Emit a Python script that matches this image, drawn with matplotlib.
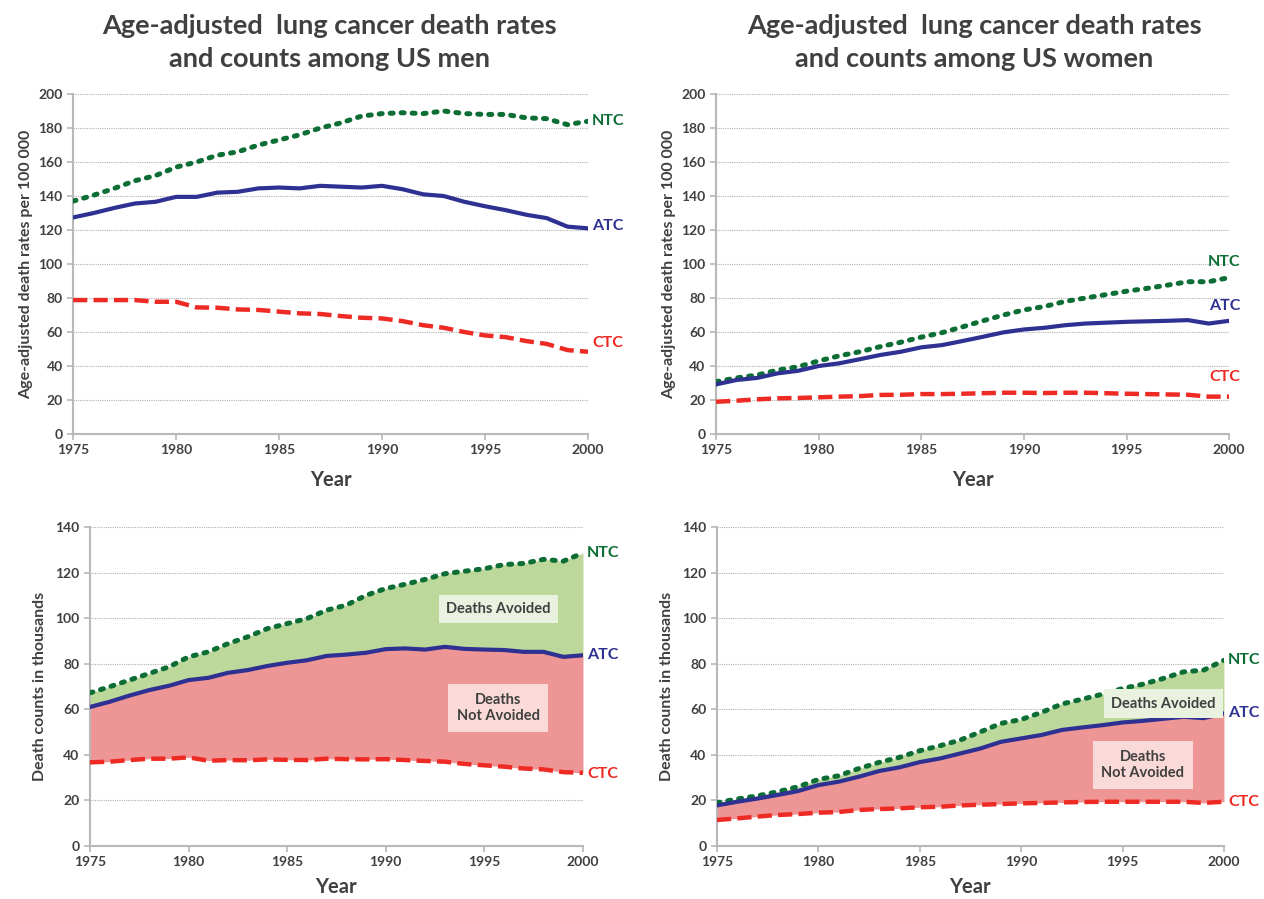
import matplotlib.pyplot as plt

plt.rcParams['font.family'] = ['Lato', 'DejaVu Sans']

years = list(range(1975, 2001))

# age-adjusted death rates per 100 000
men_ntc_rate = [137, 140.5, 144.5, 149, 152, 157, 160, 164, 166, 170, 173, 176, 180,
                183, 187, 188.5, 189, 188.5, 190, 188.5, 188, 188, 186, 185.5, 182, 184]
men_atc_rate = [127.4, 130, 133, 135.6, 136.6, 139.5, 139.5, 142, 142.5, 144.5, 145, 144.5, 146,
                145.5, 145, 146, 144, 141, 140, 136.6, 134, 131.7, 129, 127, 122, 121]
men_ctc_rate = [78.8, 78.8, 78.8, 78.8, 77.8, 77.8, 74.5, 74.3, 73.3, 73, 72, 71, 70.6,
                69.4, 68.4, 68, 66.4, 64, 62.5, 60, 58, 57, 54.7, 53, 49.4, 48.4]

women_ntc_rate = [30.8, 33, 34.7, 37.6, 39.6, 43, 46, 48.4, 51.4, 54, 57, 59.6, 63,
                  66.6, 70, 73, 75, 78, 80, 82, 84, 85.7, 87.6, 89.6, 89.6, 92]
women_atc_rate = [29.2, 31.8, 33, 35.7, 37.2, 40, 41.6, 44, 46.5, 48.4, 51, 52.3, 54.7,
                  57.2, 59.8, 61.5, 62.5, 64, 65, 65.5, 66, 66.3, 66.6, 67, 65, 66.6]
women_ctc_rate = [19, 19.6, 20.4, 21, 21.2, 21.6, 22, 22.3, 23, 23.1, 23.5, 23.5, 23.7,
                  24, 24.3, 24.3, 24.1, 24.3, 24.3, 24, 23.7, 23.5, 23.3, 23.1, 22, 22]

# death counts in thousands
men_ntc_count = [67.2, 69.9, 72.8, 75.7, 78.6, 83, 85.2, 88.8, 91.8, 95.4, 97.6, 99.8, 103.5,
                 105.7, 110, 113, 114.9, 117, 119.5, 120.6, 121.7, 123.5, 124, 125.8, 125, 128.6]
men_atc_count = [61, 63.3, 66, 68.4, 70.3, 72.8, 73.8, 76, 77.2, 79, 80.4, 81.5, 83.4,
                 84, 84.8, 86.4, 86.7, 86.2, 87.4, 86.5, 86.2, 86, 85.2, 85.2, 83, 83.7]
men_ctc_count = [36.7, 37, 37.7, 38.3, 38.3, 38.9, 37.4, 37.7, 37.6, 38, 37.8, 37.7, 38.3,
                 38.1, 38, 38.1, 37.7, 37.3, 37, 36, 35.4, 34.8, 34, 33.6, 32.4, 32.1]

women_ntc_count = [19, 20.6, 22, 23.8, 26, 29.2, 30.8, 34, 36.7, 38.9, 41.8, 44, 46.5,
                   50.1, 53.8, 55.5, 58.6, 62.3, 64.4, 66.6, 69.1, 71, 73.5, 76.4, 77.2, 81.5]
women_atc_count = [17.8, 19.4, 20.8, 22.4, 24.1, 26.7, 28.2, 30.4, 32.9, 34.5, 36.8, 38.4, 40.6,
                   42.8, 45.7, 47.2, 48.7, 50.9, 52, 53, 54.2, 54.9, 55.8, 56.7, 56.1, 58.2]
women_ctc_count = [11.4, 12.1, 12.9, 13.6, 14, 14.6, 14.9, 15.8, 16.2, 16.5, 17, 17.2, 17.8,
                   18.1, 18.4, 18.7, 18.9, 19.1, 19.3, 19.4, 19.4, 19.4, 19.4, 19.4, 18.9, 19.4]

GREEN = '#0d6e35'
BLUE = '#2e3192'
RED = '#ee2a24'
GRAY = '#404040'

fig = plt.figure(figsize=(12.64, 8.99), dpi=100)
ax_tl = fig.add_axes([0.0578, 0.5172, 0.4074, 0.3782])
ax_tr = fig.add_axes([0.5665, 0.5172, 0.4059, 0.3782])
ax_bl = fig.add_axes([0.0712, 0.059, 0.390, 0.3548])
ax_br = fig.add_axes([0.5672, 0.059, 0.4011, 0.3548])


def style(ax, ymax, ystep, ylabel, labelpad, xpad):
    ax.set_xlim(1975, 2000)
    ax.set_ylim(0, ymax)
    ax.set_xticks(range(1975, 2001, 5))
    ax.set_yticks(range(0, ymax + 1, ystep))
    ax.grid(axis='y', color='#b0b0b0', linestyle=(0, (1, 1)), linewidth=0.8)
    ax.set_axisbelow(True)
    for s in ['top', 'right']:
        ax.spines[s].set_visible(False)
    for s in ['left', 'bottom']:
        ax.spines[s].set_color('#b8b8b8')
        ax.spines[s].set_linewidth(1.5)
    ax.tick_params(colors='#b8b8b8', labelcolor=GRAY, labelsize=10, length=4, width=1.2)
    for t in ax.get_xticklabels() + ax.get_yticklabels():
        t.set_fontweight('bold')
    ax.set_xlabel('Year', fontsize=14.5, fontweight='bold', color=GRAY, labelpad=xpad)
    ax.set_ylabel(ylabel, fontsize=11.5, fontweight='bold', color=GRAY, labelpad=labelpad)


def lines(ax, ntc, atc, ctc, offsets, dx, ha):
    ax.plot(years, ntc, color=GREEN, linestyle=(0, (0.6, 1.6)), linewidth=3.6,
            dash_capstyle='round', zorder=4)
    ax.plot(years, atc, color=BLUE, linewidth=3, zorder=4)
    ax.plot(years, ctc, color=RED, linestyle=(0, (3.2, 1.4)), linewidth=3.2, zorder=4)
    for vals, name, col, off in zip([ntc, atc, ctc], ['NTC', 'ATC', 'CTC'],
                                    [GREEN, BLUE, RED], offsets):
        ax.annotate(name, xy=(years[-1], vals[-1]), xytext=(dx, off), textcoords='offset points',
                    ha=ha, va='center', fontsize=11.5, fontweight='bold', color=col,
                    annotation_clip=False)


def boxes(ax, xa, ya, xn, yn):
    ax.text(xa, ya, 'Deaths Avoided', ha='center', va='center', fontsize=10.5,
            fontweight='bold', color=GRAY, zorder=5,
            bbox=dict(boxstyle='square,pad=0.5', fc='#e9f2df', ec='none'))
    ax.text(xn, yn, 'Deaths\nNot Avoided', ha='center', va='center', fontsize=10.5,
            fontweight='bold', color=GRAY, zorder=5, linespacing=1.2,
            bbox=dict(boxstyle='square,pad=0.6', fc='#fadad8', ec='none'))


style(ax_tl, 200, 20, 'Age-adjusted death rates per 100 000', 4, 10)
style(ax_tr, 200, 20, 'Age-adjusted death rates per 100 000', 4, 10)
style(ax_bl, 140, 20, 'Death counts in thousands', 6, 6)
style(ax_br, 140, 20, 'Death counts in thousands', 6, 6)

lines(ax_tl, men_ntc_rate, men_atc_rate, men_ctc_rate, [0, 2, 6], 3, 'left')
lines(ax_tr, women_ntc_rate, women_atc_rate, women_ctc_rate, [11, 11, 14], 8, 'right')
lines(ax_bl, men_ntc_count, men_atc_count, men_ctc_count, [0, 0, -1], 3, 'left')
lines(ax_br, women_ntc_count, women_atc_count, women_ctc_count, [0, 0, 0], 3, 'left')

for ax, ntc, atc, ctc in [(ax_bl, men_ntc_count, men_atc_count, men_ctc_count),
                          (ax_br, women_ntc_count, women_atc_count, women_ctc_count)]:
    ax.fill_between(years, atc, ntc, color='#bcd99b', linewidth=0, zorder=2)
    ax.fill_between(years, ctc, atc, color='#ee9695', linewidth=0, zorder=2)

boxes(ax_bl, 1995.7, 104, 1995.7, 60.5)
boxes(ax_br, 1997.0, 62.5, 1996.0, 35.5)

fig.text(0.261, 0.953, 'Age-adjusted  lung cancer death rates\nand counts among US men',
         ha='center', va='center', fontsize=19.5, fontweight='bold', color=GRAY, linespacing=1.45)
fig.text(0.771, 0.953, 'Age-adjusted  lung cancer death rates\nand counts among US women',
         ha='center', va='center', fontsize=19.5, fontweight='bold', color=GRAY, linespacing=1.45)

fig.savefig('out.png', dpi=100)
